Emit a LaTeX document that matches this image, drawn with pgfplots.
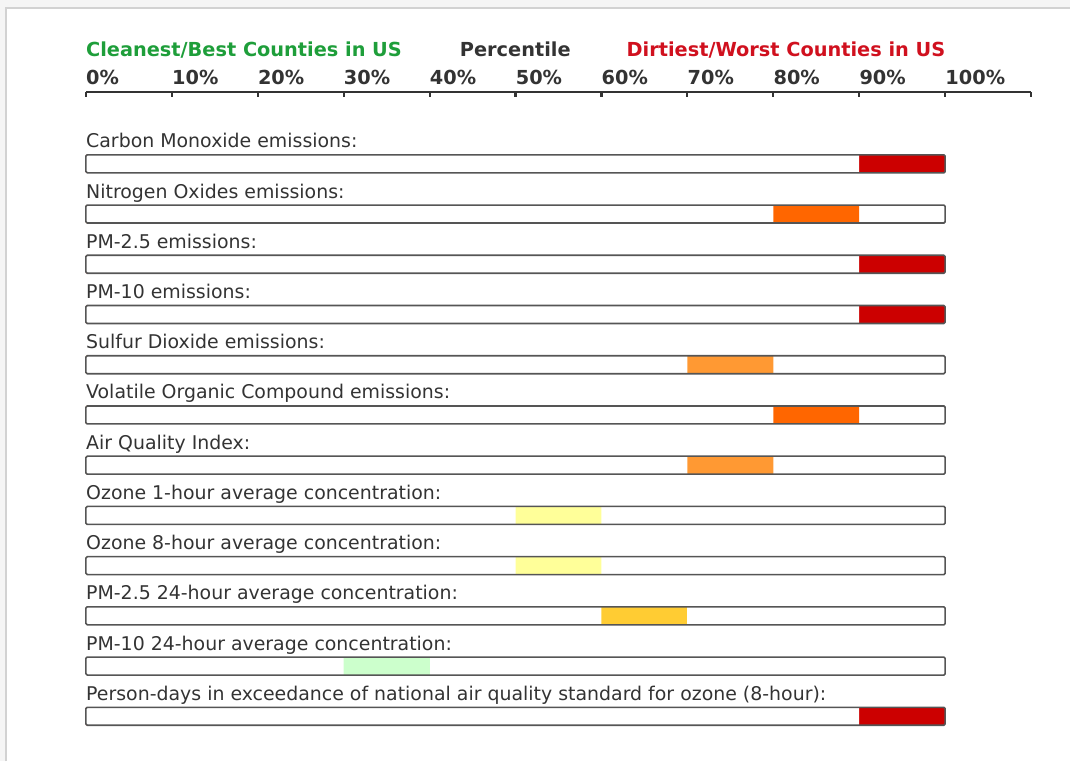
\documentclass[border=0pt]{standalone}
\usepackage{pgfplots}
\pgfplotsset{compat=1.18}
\usepackage{fontspec}
\setmainfont{DejaVu Sans}
\definecolor{cred}{HTML}{CC0000}
\definecolor{corr}{HTML}{FF6600}
\definecolor{cor}{HTML}{FF9933}
\definecolor{cyel}{HTML}{FFFF99}
\definecolor{cgold}{HTML}{FFCC33}
\definecolor{cgrn}{HTML}{CCFFCC}
\definecolor{txt}{HTML}{333333}
\definecolor{hgreen}{HTML}{1E9E3A}
\definecolor{hred}{HTML}{D0101E}
\definecolor{edge}{HTML}{555555}
\tikzset{rowlab/.style={anchor=base west, inner sep=0pt, font=\fontsize{14.2pt}{17pt}\selectfont, text=txt},
  hd/.style={anchor=base west, inner sep=0pt, font=\bfseries\fontsize{14.5pt}{17pt}\selectfont}}
\begin{document}
\begin{tikzpicture}
\begin{axis}[
  scale only axis, width=803.25pt, height=571.5pt,
  xmin=-10, xmax=114.53, ymin=-2.262, ymax=12.896,
  y dir=reverse, hide axis, clip=false,
  xbar, bar width=13.5pt, bar shift=0pt,
]
\path (axis cs:-10,-2.262) rectangle (axis cs:114.53,12.896);
% page frame
\fill[gray!8] (axis cs:-10,-2.262) rectangle (axis cs:114.53,-2.10);
\fill[gray!8] (axis cs:-10,-2.262) rectangle (axis cs:-9.3,12.896);
\draw[gray!35, line width=1.5pt] (axis cs:-9.3,12.896) -- (axis cs:-9.3,-2.10) -- (axis cs:114.53,-2.10);
% white base
\addplot[fill=white, draw=none] coordinates {(100,1) (100,2) (100,3) (100,4) (100,5) (100,6) (100,7) (100,8) (100,9) (100,10) (100,11) (100,12)};
% coloured segments (end of decile)
\addplot[fill=cred, draw=none] coordinates {(100,1) (100,3) (100,4) (100,12)};
\addplot[fill=corr, draw=none] coordinates {(90,2) (90,6)};
\addplot[fill=cor, draw=none] coordinates {(80,5) (80,7)};
\addplot[fill=cyel, draw=none] coordinates {(60,8) (60,9)};
\addplot[fill=cgold, draw=none] coordinates {(70,10)};
\addplot[fill=cgrn, draw=none] coordinates {(40,11)};
% white up to start of decile
\addplot[fill=white, draw=none] coordinates {(90,1) (80,2) (90,3) (90,4) (70,5) (80,6) (70,7) (50,8) (50,9) (60,10) (30,11) (90,12)};
% outlines
\addplot[fill=none, draw=edge, line width=1.2pt, rounded corners=1pt] coordinates {(100,1) (100,2) (100,3) (100,4) (100,5) (100,6) (100,7) (100,8) (100,9) (100,10) (100,11) (100,12)};
% header
\draw[txt, line width=1.6pt] (axis cs:0,-0.432) -- (axis cs:110,-0.432);
\pgfplotsinvokeforeach{0,10,...,110}{
  \draw[txt, line width=1.6pt] (axis cs:#1,-0.432) -- (axis cs:#1,-0.33);
}
\pgfplotsinvokeforeach{0,10,...,100}{
  \node[hd, text=txt] at (axis cs:#1,-0.572) {#1\%};
}
\node[hd, text=hgreen] at (axis cs:0,-1.128) {Cleanest/Best Counties in US};
\node[hd, text=txt] at (axis cs:43.5,-1.128) {Percentile};
\node[hd, text=hred] at (axis cs:62.9,-1.128) {Dirtiest/Worst Counties in US};
% row labels
\node[rowlab] at (axis cs:0,0.682) {Carbon Monoxide emissions:};
\node[rowlab] at (axis cs:0,1.682) {Nitrogen Oxides emissions:};
\node[rowlab] at (axis cs:0,2.682) {PM-2.5 emissions:};
\node[rowlab] at (axis cs:0,3.682) {PM-10 emissions:};
\node[rowlab] at (axis cs:0,4.682) {Sulfur Dioxide emissions:};
\node[rowlab] at (axis cs:0,5.682) {Volatile Organic Compound emissions:};
\node[rowlab] at (axis cs:0,6.682) {Air Quality Index:};
\node[rowlab] at (axis cs:0,7.682) {Ozone 1-hour average concentration:};
\node[rowlab] at (axis cs:0,8.682) {Ozone 8-hour average concentration:};
\node[rowlab] at (axis cs:0,9.682) {PM-2.5 24-hour average concentration:};
\node[rowlab] at (axis cs:0,10.682) {PM-10 24-hour average concentration:};
\node[rowlab] at (axis cs:0,11.682) {Person-days in exceedance of national air quality standard for ozone (8-hour):};
\end{axis}
\end{tikzpicture}
\end{document}
